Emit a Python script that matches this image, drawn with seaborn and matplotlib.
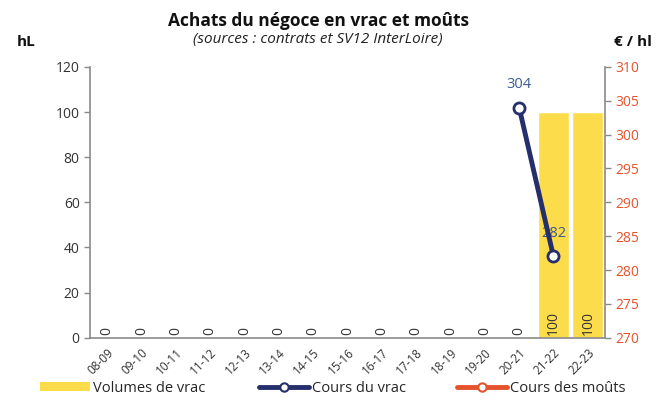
import matplotlib
matplotlib.use("Agg")
import matplotlib.pyplot as plt
import seaborn as sns
import numpy as np
import pandas as pd
from matplotlib.lines import Line2D
from matplotlib.patches import Patch

campaigns = ["08-09", "09-10", "10-11", "11-12", "12-13", "13-14", "14-15", "15-16",
             "16-17", "17-18", "18-19", "19-20", "20-21", "21-22", "22-23"]
volumes_vrac = [0, 0, 0, 0, 0, 0, 0, 0, 0, 0, 0, 0, 0, 100, 100]
cours_vrac = [np.nan] * 12 + [304, 282, np.nan]
cours_mouts = [np.nan] * 15

YELLOW = "#FDDC4C"
NAVY = "#252F6C"
ORANGE = "#E5532D"
LABEL_BLUE = "#3C5B8F"
SPINE = "#8A8A8A"

sns.set_theme(style="white")
plt.rcParams["font.family"] = ["Open Sans", "DejaVu Sans"]

df = pd.DataFrame({"campagne": campaigns, "volumes": volumes_vrac,
                   "vrac": cours_vrac, "mouts": cours_mouts})
df["pos"] = np.arange(len(df))

fig = plt.figure(figsize=(6.67, 4.03), dpi=100)
ax = fig.add_axes([0.135, 0.162, 0.772, 0.672])

sns.barplot(data=df, x="campagne", y="volumes", color=YELLOW, width=0.9,
            saturation=1, ax=ax, zorder=1)
ax.set_ylim(0, 120)
ax.set_yticks(range(0, 121, 20))
ax.set_xlim(-0.5, len(df) - 0.5)
ax.set_xlabel("")
ax.set_ylabel("")
for i, v in enumerate(volumes_vrac):
    ax.text(i, 1.0, str(v), rotation=90, ha="center", va="bottom",
            fontsize=10, color="#333333")

ax2 = ax.twinx()
sns.lineplot(data=df, x="pos", y="vrac", color=NAVY, linewidth=3.5, marker="o",
             markersize=8, markerfacecolor="white", markeredgecolor=NAVY,
             markeredgewidth=2, ax=ax2, zorder=5)
sns.lineplot(data=df, x="pos", y="mouts", color=ORANGE, linewidth=3.5, ax=ax2)
ax2.set_ylim(270, 310)
ax2.set_yticks(range(270, 311, 5))
ax2.set_xlim(-0.5, len(df) - 0.5)
ax2.set_ylabel("")
ax2.set_xlabel("")
for i, v in enumerate(cours_vrac):
    if not np.isnan(v):
        ax2.annotate(f"{v:.0f}", (i, v), xytext=(0, 11), textcoords="offset points",
                     ha="center", va="bottom", fontsize=10.5, color=LABEL_BLUE)

# axes styling
ax.set_xticks(range(len(df)))
ax.set_xticklabels(campaigns, rotation=45, ha="right", rotation_mode="anchor",
                   fontsize=8.5, color="#333333")
ax.set_xticks(np.arange(-0.5, len(df), 1), minor=True)
ax.tick_params(axis="x", which="major", length=0, pad=6)
ax.tick_params(axis="x", which="minor", length=4, color=SPINE, width=1, direction="out")
ax.tick_params(axis="y", length=4, color=SPINE, width=1, direction="out",
               labelsize=10, labelcolor="#333333", left=True)
ax2.tick_params(axis="y", length=4, color=SPINE, width=1, direction="out",
                labelsize=10, labelcolor=ORANGE, right=True)
for a in (ax, ax2):
    a.spines["top"].set_visible(False)
    for s in ("left", "bottom", "right"):
        a.spines[s].set_color(SPINE)
        a.spines[s].set_linewidth(1.2)
ax.spines["right"].set_visible(False)
ax2.spines["left"].set_visible(False)
ax2.spines["bottom"].set_visible(False)

# titles
fig.text(0.477, 0.948, "Achats du négoce en vrac et moûts", ha="center", va="center",
         fontsize=12.5, fontweight="bold", color="#111111")
fig.text(0.477, 0.903, "(sources : contrats et SV12 InterLoire)", ha="center",
         va="center", fontsize=11, style="italic", color="#222222")
fig.text(0.025, 0.897, "hL", ha="left", va="center", fontsize=11,
         fontweight="bold", color="#111111")
fig.text(0.978, 0.897, "€ / hl", ha="right", va="center", fontsize=11,
         fontweight="bold", color="#111111")

entries = [
    (Patch(facecolor=YELLOW, edgecolor="none"), "Volumes de vrac", 40),
    (Line2D([0], [0], color=NAVY, lw=3.5, marker="o", markersize=6,
            markerfacecolor="white", markeredgecolor=NAVY, markeredgewidth=1.5),
     "Cours du vrac", 259),
    (Line2D([0], [0], color=ORANGE, lw=3.5, marker="o", markersize=6,
            markerfacecolor="white", markeredgecolor=ORANGE, markeredgewidth=1.5),
     "Cours des moûts", 457),
]
for h, lab, xpx in entries:
    leg = fig.legend([h], [lab], loc="center left",
                     bbox_to_anchor=(xpx / 667, 0.037), frameon=False,
                     fontsize=10.5, handlelength=3.4, handleheight=0.6,
                     handletextpad=0.25, borderpad=0, borderaxespad=0)

fig.savefig("out.png", dpi=100)
